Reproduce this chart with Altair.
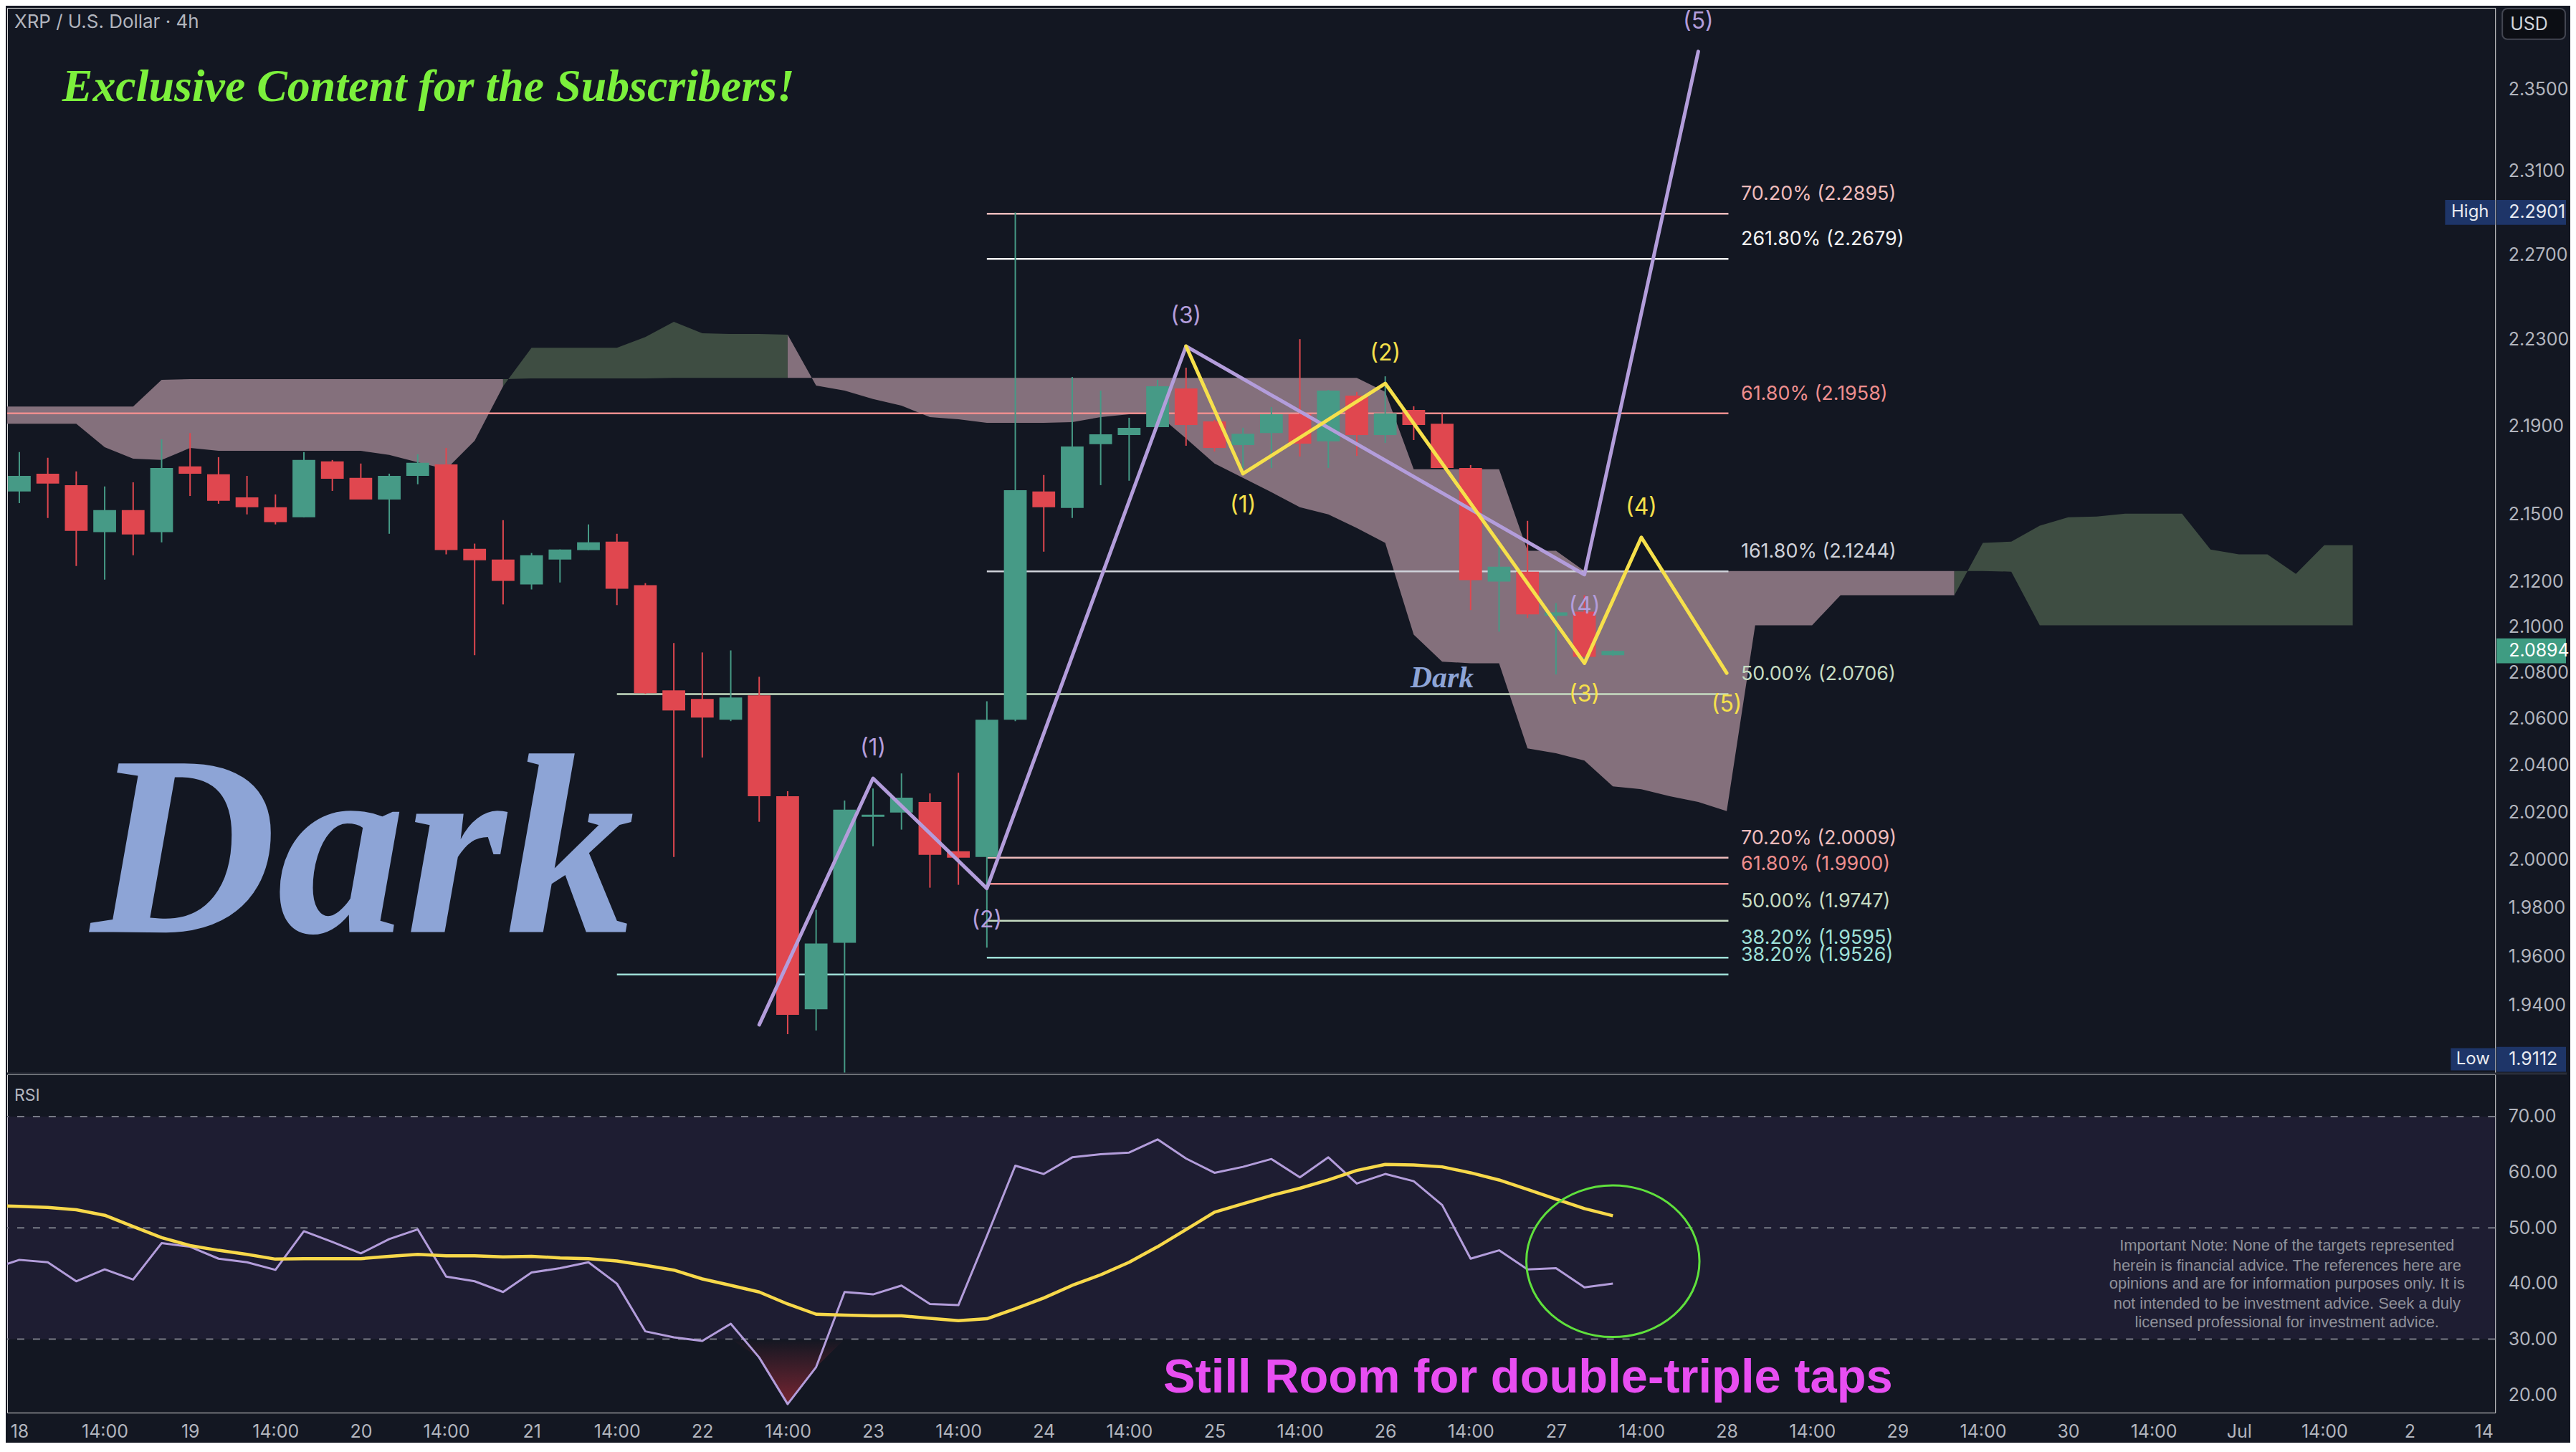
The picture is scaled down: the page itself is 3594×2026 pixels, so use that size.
import json
import altair as alt
import pandas as pd

BG = "#131722"
FONT = "Inter"
TXT = "#b2b5be"
UP = "#469a86"
DOWN = "#e0474f"
PURPLE = "#b39ddb"
YELLOW = "#f6e04b"
PINK_CLOUD = "#84707c"
GREEN_CLOUD = "#3e4d42"

W, H1, H2 = 3478, 1489, 473
X_DOM = [-0.4274, 87.0036]
P_DOM = [1.91283, 2.39023]
R_DOM = [16.787, 77.584]

# ---------------- candles (4h bars, index 0 = 18th 02:00) ----------------
bar_index = list(range(57))
open_ = [2.1602, 2.1683, 2.1631, 2.1419, 2.1518, 2.1419, 2.1716, 2.1680, 2.1576, 2.1531,
         2.1486, 2.1739, 2.1664, 2.1566, 2.1673, 2.1725, 2.1345, 2.1297, 2.1186, 2.1297,
         2.1339, 2.1377, 2.1183, 2.0722, 2.0685, 2.0595, 2.0700, 2.0268, 1.9385, 1.9656,
         2.0181, 2.0199, 2.0244, 2.0036, 2.0012, 2.0595, 2.1602, 2.1528, 2.1817, 2.1859,
         2.1895, 2.2073, 2.1921, 2.1813, 2.1868, 2.1954, 2.1830, 2.2040, 2.1859, 2.1974,
         2.1911, 2.1709, 2.1199, 2.1243, 2.1048, 2.1066, 2.0875]
high = [2.1781, 2.1755, 2.1693, 2.1625, 2.1644, 2.1839, 2.1868, 2.1758, 2.1673, 2.1589,
        2.1781, 2.1745, 2.1729, 2.1683, 2.1771, 2.1800, 2.1368, 2.1473, 2.1326, 2.1342,
        2.1454, 2.1412, 2.1192, 2.0928, 2.0887, 2.0896, 2.0781, 2.0289, 1.9792, 2.0250,
        2.0301, 2.0365, 2.0280, 2.0368, 2.0675, 2.2901, 2.1677, 2.2126, 2.2063, 2.1938,
        2.2113, 2.2169, 2.1928, 2.1892, 2.1987, 2.2302, 2.2066, 2.2057, 2.2129, 2.1991,
        2.1958, 2.1722, 2.1358, 2.1470, 2.1104, 2.1139, 2.0897]
low = [2.1550, 2.1483, 2.1268, 2.1208, 2.1316, 2.1374, 2.1582, 2.1547, 2.1499, 2.1454,
       2.1486, 2.1605, 2.1566, 2.1412, 2.1635, 2.1320, 2.0875, 2.1098, 2.1164, 2.1195,
       2.1339, 2.1095, 2.0707, 2.0012, 2.0433, 2.0589, 2.0160, 1.9284, 1.9299, 1.9112,
       2.0057, 2.0127, 1.9884, 1.9896, 1.9636, 2.0589, 2.1332, 2.1483, 2.1631, 2.1651,
       2.1892, 2.1810, 2.1784, 2.1706, 2.1709, 2.1761, 2.1709, 2.1764, 2.1823, 2.1836,
       2.1709, 2.1073, 2.0978, 2.1038, 2.0791, 2.0868, 2.0872]
close = [2.1673, 2.1638, 2.1425, 2.1518, 2.1409, 2.1709, 2.1683, 2.1560, 2.1531, 2.1464,
         2.1745, 2.1660, 2.1566, 2.1673, 2.1732, 2.1339, 2.1294, 2.1202, 2.1316, 2.1342,
         2.1374, 2.1167, 2.0710, 2.0635, 2.0604, 2.0691, 2.0268, 1.9362, 1.9653, 2.0211,
         2.0190, 2.0262, 2.0021, 2.0009, 2.0595, 2.1608, 2.1531, 2.1807, 2.1862, 2.1892,
         2.2083, 2.1905, 2.1800, 2.1865, 2.1954, 2.1820, 2.2063, 2.1859, 2.1958, 2.1905,
         2.1709, 2.1205, 2.1265, 2.1054, 2.1063, 2.0868, 2.0894]

# ---------------- Ichimoku cloud ----------------
cloud_index = [-0.43] + list(range(0, 83))
lead_a = [2.1911,
          2.1911, 2.1911, 2.1911, 2.1803, 2.1751, 2.1745, 2.1800, 2.1787, 2.1787, 2.1787,
          2.1787, 2.1787, 2.1787, 2.1768, 2.1735, 2.1703, 2.1833, 2.2083, 2.2262, 2.2262,
          2.2262, 2.2262, 2.2312, 2.2383, 2.2329, 2.2326, 2.2326, 2.2323, 2.2086, 2.2063,
          2.2024, 2.1994, 2.1941, 2.1931, 2.1915, 2.1915, 2.1915, 2.1918, 2.1941, 2.1954,
          2.1954, 2.1843, 2.1729, 2.1664, 2.1599, 2.1531, 2.1499, 2.1438, 2.1371, 2.0965,
          2.0847, 2.0840, 2.0840, 2.0472, 2.0451, 2.0420, 2.0310, 2.0298, 2.0268, 2.0244,
          2.0205, 2.1006, 2.1006, 2.1006, 2.1139, 2.1139, 2.1139, 2.1139, 2.1139, 2.1371,
          2.1377, 2.1448, 2.1486, 2.1489, 2.1502, 2.1502, 2.1502, 2.1342, 2.1320, 2.1320,
          2.1233, 2.1361, 2.1361]
lead_b = [2.1990,
          2.1990, 2.1990, 2.1990, 2.1990, 2.1990, 2.2113, 2.2116, 2.2116, 2.2116, 2.2116,
          2.2116, 2.2116, 2.2116, 2.2116, 2.2116, 2.2116, 2.2116, 2.2116, 2.2119, 2.2119,
          2.2119, 2.2119, 2.2119, 2.2122, 2.2122, 2.2122, 2.2122, 2.2122, 2.2122, 2.2122,
          2.2122, 2.2122, 2.2122, 2.2122, 2.2122, 2.2122, 2.2122, 2.2122, 2.2122, 2.2122,
          2.2122, 2.2122, 2.2122, 2.2122, 2.2122, 2.2122, 2.2122, 2.2122, 2.2057, 2.1703,
          2.1703, 2.1703, 2.1703, 2.1336, 2.1336, 2.1246, 2.1246, 2.1246, 2.1246, 2.1246,
          2.1246, 2.1246, 2.1246, 2.1246, 2.1246, 2.1246, 2.1246, 2.1246, 2.1246, 2.1246,
          2.1243, 2.1006, 2.1006, 2.1006, 2.1006, 2.1006, 2.1006, 2.1006, 2.1006, 2.1006,
          2.1006, 2.1006, 2.1006]

# ---------------- Fibonacci levels ----------------
fib_price = [2.2895, 2.2679, 2.1958, 2.1244, 2.0706, 2.0009, 1.9900, 1.9747, 1.9595, 1.9526]
fib_text = ["70.20% (2.2895)", "261.80% (2.2679)", "61.80% (2.1958)", "161.80% (2.1244)",
            "50.00% (2.0706)", "70.20% (2.0009)", "61.80% (1.9900)", "50.00% (1.9747)",
            "38.20% (1.9595)", "38.20% (1.9526)"]
fib_start = [34, 34, -0.43, 34, 21, 34, 34, 34, 34, 21]
fib_end = [60.06, 60.06, 60.06, 60.06, 60.06, 60.06, 60.06, 60.06, 60.06, 60.06]
fib_label_x = [60.5, 60.5, 60.5, 60.5, 60.5, 60.5, 60.5, 60.5, 60.5, 60.5]
fib_color = ["#eebcbc", "#f2f2f2", "#ee8e8e", "#cfd2da", "#c6dcc2",
             "#eebcbc", "#ee8e8e", "#c6dcc2", "#9fe0d8", "#9fe0d8"]

# ---------------- Elliott waves ----------------
purple_idx = [26, 30, 34, 41, 55, 59]
purple_px = [1.9322, 2.0344, 1.9881, 2.2269, 2.1230, 2.3685]
purple_lbl = ["", "(1)", "(2)", "(3)", "(4)", "(5)"]
purple_pos = ["none", "up", "down", "up", "down", "up"]
yellow_idx = [41, 43, 48, 55, 57, 60]
yellow_px = [2.2269, 2.1683, 2.2096, 2.0840, 2.1396, 2.0797]
yellow_lbl = ["", "(1)", "(2)", "(3)", "(4)", "(5)"]
yellow_pos = ["none", "down", "up", "down", "up", "down"]

# ---------------- RSI ----------------
rsi_index = [-0.63] + list(range(57))
rsi = [43.18, 44.25, 43.82, 40.40, 42.54, 40.70, 47.25, 46.61, 44.46, 43.82, 42.45,
       49.39, 47.46, 45.41, 47.98, 49.73, 41.25, 40.40, 38.47, 41.98, 42.75,
       43.82, 39.97, 31.40, 30.33, 29.68, 32.77, 26.70, 18.33, 24.97, 38.47,
       38.04, 39.63, 36.32, 36.11, 48.50, 61.17, 59.68, 62.67, 63.23, 63.53,
       65.89, 62.46, 59.89, 60.96, 62.37, 59.07, 62.67, 57.96, 59.68, 58.39,
       54.10, 44.46, 45.96, 42.54, 42.75, 39.32, 39.97]
rsi_ma = [53.97, 53.85, 53.68, 53.25, 52.26, 50.25, 48.24, 46.82, 45.96, 45.23, 44.38,
          44.46, 44.46, 44.46, 44.89, 45.23, 44.98, 44.98, 44.77, 44.89, 44.59,
          44.46, 44.04, 43.27, 42.41, 40.82, 39.67, 38.47, 36.32, 34.48, 34.31,
          34.18, 34.18, 33.75, 33.33, 33.66, 35.46, 37.39, 39.67, 41.56, 43.82,
          46.61, 49.69, 52.82, 54.32, 55.82, 57.11, 58.60, 60.32, 61.39, 61.30,
          60.96, 59.89, 58.60, 56.89, 55.18, 53.46, 52.17]
rsi_levels = [70, 50, 30]

# ---------------- axis labels ----------------
price_ticks = [1.94, 1.96, 1.98, 2.00, 2.02, 2.04, 2.06, 2.08, 2.10, 2.12,
               2.15, 2.19, 2.23, 2.27, 2.31, 2.35]
rsi_ticks = [20, 30, 40, 50, 60, 70]
time_tick_idx = list(range(0, 85, 3)) + [86.6]
time_labels = ["18", "14:00", "19", "14:00", "20", "14:00", "21", "14:00", "22", "14:00",
               "23", "14:00", "24", "14:00", "25", "14:00", "26", "14:00", "27", "14:00",
               "28", "14:00", "29", "14:00", "30", "14:00", "Jul", "14:00", "2"]

disclaimer = ["Important Note: None of the targets represented",
              "herein is financial advice. The references here are",
              "opinions and are for information purposes only. It is",
              "not intended to be investment advice. Seek a duly",
              "licensed professional for investment advice."]

# ================= encodings =================
XS = alt.Scale(domain=X_DOM, nice=False, zero=False)
PS = alt.Scale(type="log", domain=P_DOM, nice=False, zero=False)
RS = alt.Scale(domain=R_DOM, nice=False, zero=False)

P_AXIS = alt.Axis(orient="right", values=price_ticks, format=".4f", labelColor=TXT,
                  labelFontSize=25, labelFont=FONT, labelPadding=18, ticks=False,
                  domain=False, grid=False, title=None, labelOverlap=False,
                  labelFlush=False)
R_AXIS = alt.Axis(orient="right", values=rsi_ticks, format=".2f", labelColor=TXT,
                  labelFontSize=25, labelFont=FONT, labelPadding=18, ticks=False,
                  domain=False, grid=False, title=None, labelOverlap=False,
                  labelFlush=False)
X_AXIS = alt.Axis(values=time_tick_idx,
                  labelExpr="datum.value > 85 ? '14' : " + json.dumps(time_labels) + "[round(datum.value / 3)]",
                  labelColor=TXT, labelFontSize=25, labelFont=FONT, labelPadding=14,
                  ticks=False, domain=False, grid=False, title=None,
                  labelOverlap=False, labelFlush=False)


def XT(f):
    return alt.X(f, type="quantitative", scale=XS, axis=None)


def XB(f):
    return alt.X(f, type="quantitative", scale=XS, axis=X_AXIS)


def PY(f):
    return alt.Y(f, type="quantitative", scale=PS, axis=P_AXIS)


def RY(f):
    return alt.Y(f, type="quantitative", scale=RS, axis=R_AXIS)


NOCOL = lambda f: alt.Color(f, type="nominal", scale=None)

# ================= price panel =================
rows = []
grp = 0
prev = None
for k in range(1, len(cloud_index)):
    clr = GREEN_CLOUD if lead_a[k] > lead_b[k] else PINK_CLOUD
    if clr != prev:
        grp += 1
        rows.append({"i": cloud_index[k - 1], "a": lead_a[k - 1], "b": lead_b[k - 1], "g": grp, "clr": clr})
        prev = clr
    rows.append({"i": cloud_index[k], "a": lead_a[k], "b": lead_b[k], "g": grp, "clr": clr})
cloud_df = pd.DataFrame(rows)

cloud = alt.Chart(cloud_df).mark_area(clip=True, opacity=1).encode(
    x=XT("i"), y=PY("a"), y2="b", detail="g:N", color=NOCOL("clr"))

fib_df = pd.DataFrame({"p": fib_price, "x0": fib_start, "x1": fib_end, "lx": fib_label_x,
                       "t": fib_text, "clr": fib_color})
fib_lines = alt.Chart(fib_df).mark_rule(strokeWidth=2.5, clip=True).encode(
    x=XT("x0"), x2="x1", y=PY("p"), color=NOCOL("clr"))
fib_labels = alt.Chart(fib_df).mark_text(align="left", baseline="middle", dy=-27,
                                         fontSize=27, font=FONT).encode(
    x=XT("lx"), y=PY("p"), text="t:N", color=NOCOL("clr"))

cdf = pd.DataFrame({"i": bar_index, "o": open_, "h": high, "l": low, "c": close})
cbase = alt.Chart(cdf).transform_calculate(
    clr=f"datum.c >= datum.o ? '{UP}' : '{DOWN}'",
    x0="datum.i - 0.4", x1="datum.i + 0.4")
wicks = cbase.mark_rule(strokeWidth=2, clip=True).encode(
    x=XT("i"), y=PY("l"), y2="h", color=NOCOL("clr"))
bodies = cbase.mark_rect(clip=True).encode(
    x=XT("x0:Q"), x2="x1:Q", y=PY("o"), y2="c", color=NOCOL("clr"))

pw = pd.DataFrame({"i": purple_idx, "p": purple_px, "t": purple_lbl, "pos": purple_pos,
                   "n": list(range(6))})
yw = pd.DataFrame({"i": yellow_idx, "p": yellow_px, "t": yellow_lbl, "pos": yellow_pos,
                   "n": list(range(6))})
purple_line = alt.Chart(pw).mark_line(color=PURPLE, strokeWidth=5, strokeJoin="round",
                                      strokeCap="round", clip=True).encode(
    x=XT("i"), y=PY("p"), order="n:Q")
yellow_line = alt.Chart(yw).mark_line(color=YELLOW, strokeWidth=5, strokeJoin="round",
                                      strokeCap="round", clip=True).encode(
    x=XT("i"), y=PY("p"), order="n:Q")


def wave_labels(df, color, pos, dy):
    return alt.Chart(df).transform_filter(f"datum.pos == '{pos}'").mark_text(
        fontSize=32, font=FONT, color=color, dy=dy, baseline="middle", align="center").encode(
        x=XT("i"), y=PY("p"), text="t:N")


wl = [wave_labels(pw, PURPLE, "up", -42), wave_labels(pw, PURPLE, "down", 44),
      wave_labels(yw, YELLOW, "up", -42), wave_labels(yw, YELLOW, "down", 44)]

one = pd.DataFrame({"k": [0]})
xrp = alt.Chart(one).mark_text(text="XRP / U.S. Dollar · 4h", align="left", baseline="middle",
                               fontSize=26, font=FONT, color=TXT).encode(
    x=alt.value(10), y=alt.value(20))
excl = alt.Chart(one).mark_text(text="Exclusive Content for the Subscribers!", align="left",
                                baseline="alphabetic", fontSize=64, font="Liberation Serif",
                                fontStyle="italic", fontWeight="bold", color="#7cf03c").encode(
    x=alt.value(77), y=alt.value(130))
dark_big = alt.Chart(one).mark_text(text="Dark", align="center", baseline="alphabetic",
                                    fontSize=360, font="Liberation Serif", fontStyle="italic",
                                    fontWeight="bold", color="#8da4d6").encode(
    x=alt.value(497), y=alt.value(1292))
dark_small = alt.Chart(one).mark_text(text="Dark", align="center", baseline="alphabetic",
                                      fontSize=42, font="Liberation Serif", fontStyle="italic",
                                      fontWeight="bold", color="#8da4d6").encode(
    x=alt.value(2006), y=alt.value(950))

# price-scale boxes
BOX_VAL = "M-1,-0.36L1,-0.36L1,0.36L-1,0.36Z"
BOX_TAG = "M-1,-0.5L1,-0.5L1,0.5L-1,0.5Z"
cur_df = pd.DataFrame({"p": [2.0894], "t": ["2.0894"]})
hi_df = pd.DataFrame({"p": [2.2901], "t": ["2.2901"]})
cur_box = alt.Chart(cur_df).mark_point(shape=BOX_VAL, size=9409, filled=True, opacity=1,
                                       color="#3f9c82", strokeWidth=0).encode(
    x=alt.value(3528.5), y=PY("p"))
cur_txt = alt.Chart(cur_df).mark_text(align="left", baseline="middle", fontSize=25, font=FONT,
                                      color="#ffffff").encode(
    x=alt.value(3497), y=PY("p"), text="t:N")
hi_box = alt.Chart(hi_df).mark_point(shape=BOX_VAL, size=9409, filled=True, opacity=1,
                                     color="#1e3568", strokeWidth=0).encode(
    x=alt.value(3528.5), y=PY("p"))
hi_tag = alt.Chart(hi_df).mark_point(shape=BOX_TAG, size=4900, filled=True, opacity=1,
                                     color="#1e3568", strokeWidth=0).encode(
    x=alt.value(3443), y=PY("p"))
hi_txt = alt.Chart(hi_df).mark_text(align="left", baseline="middle", fontSize=25, font=FONT,
                                    color="#e8eaf0").encode(
    x=alt.value(3497), y=PY("p"), text="t:N")
hi_tag_txt = alt.Chart(hi_df).mark_text(text="High", align="center", baseline="middle",
                                        fontSize=24, font=FONT, color="#e8eaf0").encode(
    x=alt.value(3443), y=PY("p"))
low_box = alt.Chart(one).mark_point(shape=BOX_VAL, size=9409, filled=True, opacity=1,
                                    color="#1e3568", strokeWidth=0).encode(
    x=alt.value(3528.5), y=alt.value(1470))
low_tag = alt.Chart(one).mark_point(shape=BOX_TAG, size=3844, filled=True, opacity=1,
                                    color="#1e3568", strokeWidth=0).encode(
    x=alt.value(3447), y=alt.value(1470))
low_txt = alt.Chart(one).mark_text(text="1.9112", align="left", baseline="middle", fontSize=25,
                                   font=FONT, color="#e8eaf0").encode(
    x=alt.value(3497), y=alt.value(1470))
low_tag_txt = alt.Chart(one).mark_text(text="Low", align="center", baseline="middle",
                                       fontSize=24, font=FONT, color="#e8eaf0").encode(
    x=alt.value(3447), y=alt.value(1470))
usd_box = alt.Chart(one).mark_rect(fill="#0c0e14", stroke="#434651", strokeWidth=2,
                                   cornerRadius=7).encode(
    x=alt.value(3488), x2=alt.value(3576), y=alt.value(1), y2=alt.value(44))
usd_txt = alt.Chart(one).mark_text(text="USD", align="left", baseline="middle", fontSize=25,
                                   font=FONT, color="#d1d4dc").encode(
    x=alt.value(3499), y=alt.value(23))

top = alt.layer(
    cloud, fib_lines, fib_labels, wicks, bodies, dark_small, purple_line, yellow_line,
    *wl, xrp, excl, dark_big, cur_box, cur_txt, hi_tag, hi_box, hi_txt, hi_tag_txt,
    low_tag, low_box, low_txt, low_tag_txt, usd_box, usd_txt
).properties(width=W, height=H1)

# ================= RSI panel =================
band_df = pd.DataFrame({"hi": [70], "lo": [30]})
band = alt.Chart(band_df).mark_rect(color="#7e57c2", opacity=0.1).encode(
    x=alt.value(0), x2=alt.value(W), y=RY("hi"), y2="lo")
lvl_df = pd.DataFrame({"v": rsi_levels})
levels = alt.Chart(lvl_df).mark_rule(strokeDash=[10, 12], strokeWidth=2, color="#787b86").encode(
    y=RY("v"))
rdf = pd.DataFrame({"i": rsi_index, "r": rsi, "m": rsi_ma})
grad = alt.Gradient(gradient="linear", x1=0, y1=0, x2=0, y2=1,
                    stops=[alt.GradientStop(color="rgba(242,54,69,0.0)", offset=0),
                           alt.GradientStop(color="rgba(242,54,69,0.45)", offset=1)])
oversold = alt.Chart(rdf).transform_calculate(
    lowv="min(datum.r, 30)", base30="30").mark_area(clip=True, color=grad).encode(
    x=XB("i"), y=RY("lowv:Q"), y2="base30:Q")
rsi_line = alt.Chart(rdf).mark_line(color=PURPLE, strokeWidth=3, clip=True,
                                    strokeJoin="round").encode(x=XB("i"), y=RY("r"))
ma_line = alt.Chart(rdf).mark_line(color="#f7d84a", strokeWidth=4.5, clip=True,
                                   strokeJoin="round").encode(x=XB("i"), y=RY("m"))
ell_df = pd.DataFrame({"i": [56], "v": [44.0]})
ELLIPSE = ("M1,0C1,0.4838,0.5523,0.876,0,0.876C-0.5523,0.876,-1,0.4838,-1,0"
           "C-1,-0.4838,-0.5523,-0.876,0,-0.876C0.5523,-0.876,1,-0.4838,1,0Z")
ellipse = alt.Chart(ell_df).mark_point(shape=ELLIPSE, size=58564, filled=False, opacity=1,
                                       stroke="#5fe03c", strokeWidth=3).encode(
    x=XB("i"), y=RY("v"))
rsi_title = alt.Chart(one).mark_text(text="RSI", align="left", baseline="middle", fontSize=23,
                                     font=FONT, color=TXT).encode(
    x=alt.value(10), y=alt.value(30))
still = alt.Chart(one).mark_text(text="Still Room for double-triple taps", align="center",
                                 baseline="middle", fontSize=67, font="Liberation Sans",
                                 fontWeight="bold", color="#e84ef2").encode(
    x=alt.value(2126), y=alt.value(425))
disc_df = pd.DataFrame({"t": disclaimer, "yy": [239, 267, 293, 321, 347]})
disc = alt.Chart(disc_df).mark_text(align="center", baseline="middle", fontSize=22,
                                    font="Liberation Sans", color="#8e9099").encode(
    x=alt.value(3187), y=alt.Y("yy:Q", scale=None), text="t:N")
sep = alt.Chart(one).mark_rule(color="#2a2e39", strokeWidth=3).encode(
    x=alt.value(0), x2=alt.value(3578), y=alt.value(-1))

bottom = alt.layer(
    band, levels, oversold, rsi_line, ma_line, ellipse, rsi_title, still, disc, sep
).properties(width=W, height=H2)

chart = alt.vconcat(top, bottom, spacing=2, bounds="flush").properties(
    padding=0, background=BG
).configure_view(stroke=None).configure(font=FONT)

chart.save("out.html", embed_options={"renderer": "svg", "actions": False})
